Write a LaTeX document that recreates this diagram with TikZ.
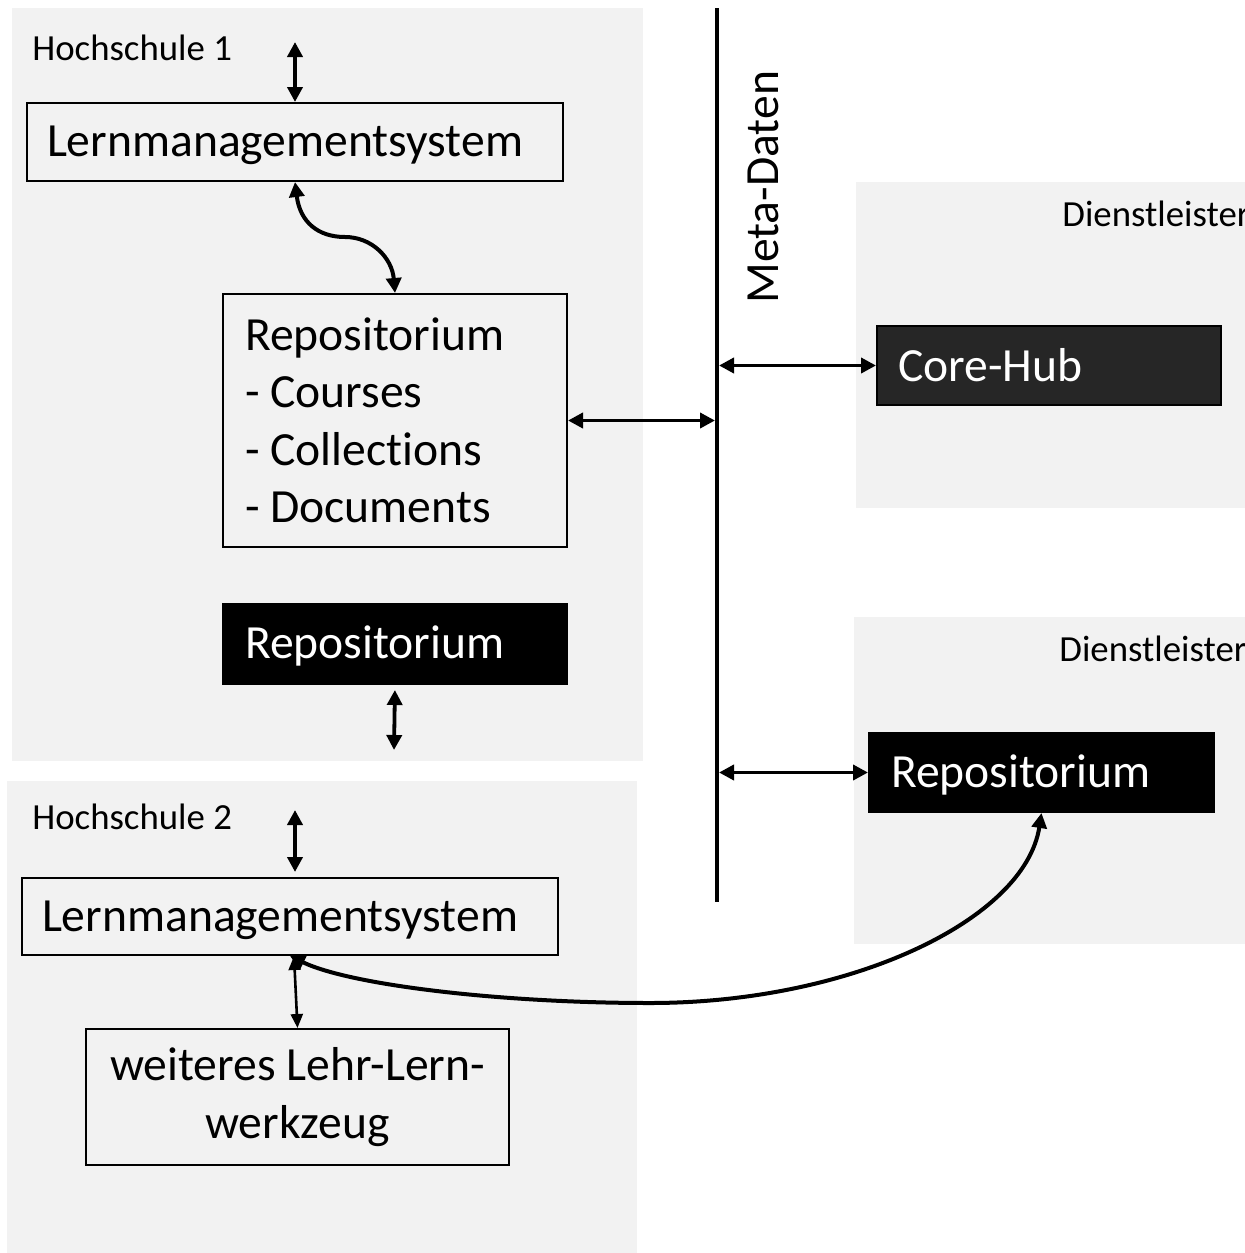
\documentclass[tikz,border=0pt]{standalone}
\usepackage{fontspec}
\setmainfont[Ligatures=NoCommon]{Carlito}
\usetikzlibrary{arrows.meta,calc}
\definecolor{bg}{HTML}{F2F2F2}
\definecolor{hub}{HTML}{262626}
\begin{document}
\begin{tikzpicture}[x=0.5pt,y=-0.5pt,
  big/.style={font=\fontsize{23.8}{28.75}\selectfont},
  small/.style={font=\fontsize{18.4}{22}\selectfont},
  lbl/.style={small,anchor=base west,inner sep=0pt},
  wbox/.style={draw=black,line width=1pt,anchor=north west,inner ysep=0pt,align=flush left,big},
  bbox/.style={wbox,fill=black,text=white},
  low/.style={text height=17.5pt,text depth=3pt},
  panel/.style={fill=bg,draw=none},
  dbl/.style={line width=1.9pt,{Triangle[length=7.5pt,width=7.5pt]}-{Triangle[length=7.5pt,width=7.5pt]}},
  curve/.style={line width=2pt,{Triangle[length=7.5pt,width=7.5pt]}-{Triangle[length=7.5pt,width=7.5pt]}},
]
\useasboundingbox (0,0) rectangle (1245,1253);
\clip (0,0) rectangle (1245,1253);
% panels
\fill[panel] (12,8) rectangle (643,761);
\fill[panel] (7,781) rectangle (637,1253);
\fill[panel] (856,182) rectangle (1245,508);
\fill[panel] (854,617) rectangle (1245,944);
% labels
\node[lbl] (hs1) at (32,60) {Hochschule 1};
\node[lbl] (hs2) at (32,829) {Hochschule 2};
\node[lbl] (d1) at (1062,226) {Dienstleister};
\node[lbl] (d2) at (1059,661) {Dienstleister};
\node[big,rotate=90,anchor=base west,inner sep=0pt] (metalabel) at (778,304) {Meta-Daten};
% meta line
\node[fill=black,inner sep=0pt,outer sep=0pt,minimum width=2pt,minimum height=447pt] (meta) at (717,455) {};
% boxes
\node[wbox,low,minimum width=268pt,minimum height=39pt,text width=248pt,inner xsep=10pt] (lms1) at (26,102) {Lernmanagementsystem};
\node[wbox,minimum width=172pt,minimum height=126.5pt,text width=150pt,inner xsep=11pt] (repo) at (222,293) {Repositorium\\- Courses\\- Collections\\- Documents};
\node[bbox,low,minimum width=172pt,minimum height=40pt,text width=150pt,inner xsep=11pt] (repoB) at (222,603) {Repositorium};
\node[wbox,low,minimum width=268pt,minimum height=38.5pt,text width=248pt,inner xsep=10pt] (lms2) at (21,877) {Lernmanagementsystem};
\node[wbox,align=flush center,minimum width=211.5pt,minimum height=68pt,text width=191.5pt,inner xsep=10pt] (tool) at (85,1028) {weiteres Lehr-Lern-\\werkzeug};
\node[wbox,fill=hub,text=white,minimum width=172pt,minimum height=39.5pt,text width=151pt,inner xsep=10.5pt] (core) at (876,325) {Core-Hub};
\node[bbox,low,minimum width=172.5pt,minimum height=39.5pt,text width=150.5pt,inner xsep=11pt] (repo2) at (868,732) {Repositorium};
% free ends
\coordinate (t1) at (293,42);
\coordinate (b1) at (394,750);
\coordinate (t2) at (295,810);
% connectors
\draw[dbl] (lms1.north |- t1) -- (lms1.north);
\draw[curve] (lms1.south) .. controls (300,222) and (318,237) .. (345,237) .. controls (372,237) and (392,258) .. (repo.north);
\draw[dbl] (repo.east) -- (repo.east -| meta.west);
\draw[dbl,shorten <=2.5pt] (repoB.south) -- (b1);
\draw[dbl,shorten >=2.5pt] (t2) -- (t2 |- lms2.north);
\draw[line width=1.3pt,{Triangle[length=7pt,width=6pt]}-{Triangle[length=7pt,width=6pt]}] ($(lms2.south)+(4,0)$) -- (tool.north);
\draw[dbl] (meta.east |- core.west) -- (core.west);
\draw[dbl] (meta.east |- repo2.west) -- (repo2.west);
\draw[curve] (repo2.south) .. controls (1025,920) and (850,1003) .. (650,1003) .. controls (500,1003) and (350,985) .. (lms2.south);
\end{tikzpicture}
\end{document}
